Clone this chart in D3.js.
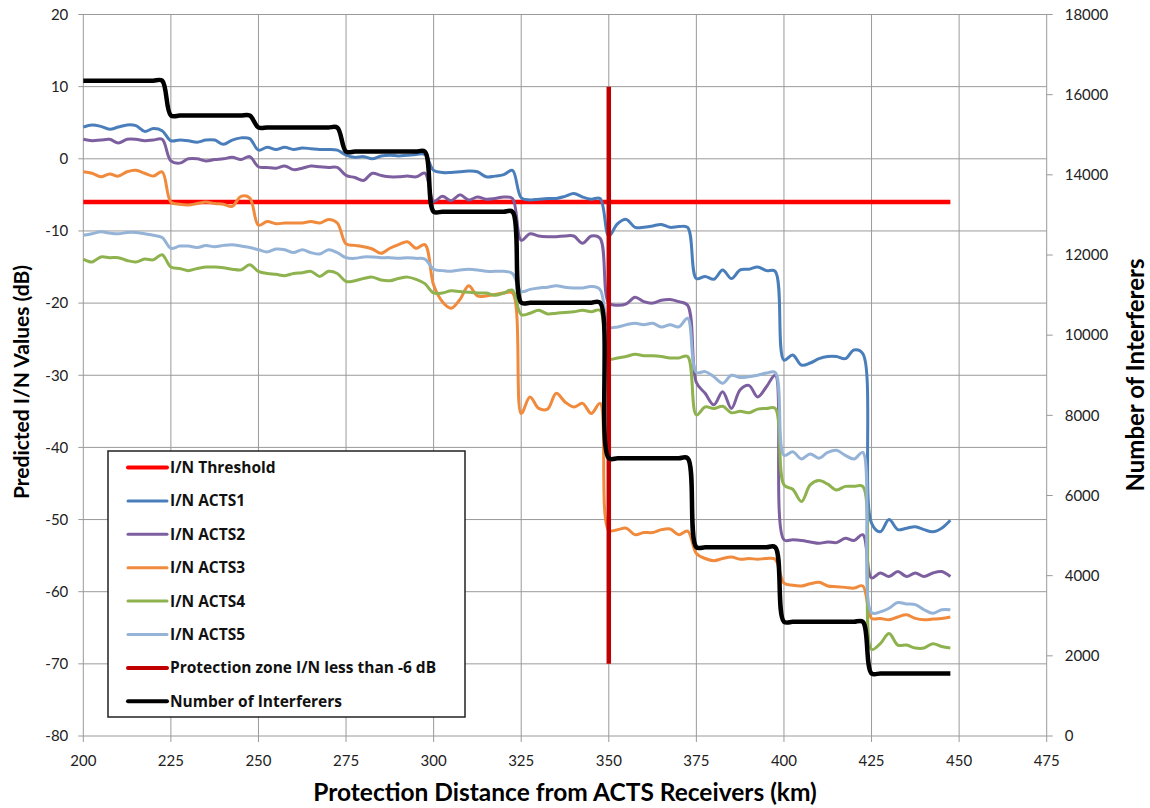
<!DOCTYPE html>
<html>
<head>
<meta charset="utf-8">
<script src="https://cdn.jsdelivr.net/npm/d3@7"></script>
<style>
  body { margin: 0; background: #fff; }
  text { font-family: Lato, "Open Sans", sans-serif; }
</style>
</head>
<body>
<div id="chart"></div>
<script>
// distances at 2.5 km steps, 200 .. 447.5
const distanceKm = d3.range(200, 447.6, 2.5);

const thresholdDb = -6;
const protectionKm = 350;
const protectionRange = [10, -70];

// I/N per receiver (dB), 10 values per 25 km step
const acts1 = [
  4.4, 4.7, 4.5, 4.1, 4.4, 4.7, 4.6, 3.8, 4.2, 3.9,
  2.5, 2.6, 2.5, 2.3, 2.6, 2.6, 2.0, 2.6, 2.9, 2.8,
  1.2, 1.6, 1.3, 1.6, 1.3, 1.5, 1.4, 1.3, 1.3, 1.2,
  0.5, 0.2, 0.3, 0.0, 0.4, 0.5, 0.4, 0.5, 0.6, 0.6,
  -1.6, -1.9, -1.9, -1.8, -1.7, -1.8, -2.5, -2.4, -2.2, -1.6,
  -5.4, -5.7, -5.6, -5.5, -5.5, -5.2, -4.8, -5.3, -5.6, -5.5,
  -10.7, -9.0, -8.4, -9.5, -9.5, -9.3, -9.1, -9.5, -9.4, -9.5,
  -16.6, -16.3, -16.7, -15.4, -16.6, -15.4, -15.3, -15.0, -15.5, -15.6,
  -27.9, -27.2, -28.6, -28.3, -27.7, -27.4, -27.4, -27.7, -26.5, -27.0,
  -50.5, -51.7, -50.0, -51.4, -51.2, -51.0, -51.4, -51.7, -51.2, -50.1
];
const acts2 = [
  2.7, 2.5, 2.6, 2.7, 2.2, 2.7, 2.7, 2.5, 2.6, 2.7,
  -0.3, -0.6, 0.0, 0.0, -0.3, -0.1, 0.0, 0.2, -0.1, 0.3,
  -1.1, -1.2, -1.3, -1.0, -1.5, -1.3, -1.0, -1.1, -1.2, -1.2,
  -2.3, -2.6, -3.0, -2.0, -2.3, -2.5, -2.5, -2.4, -2.5, -2.0,
  -5.9, -5.2, -5.8, -5.0, -5.7, -5.3, -5.6, -5.5, -5.3, -5.5,
  -11.3, -10.4, -10.7, -10.8, -10.8, -10.7, -10.7, -11.7, -10.7, -11.0,
  -20.0, -20.3, -20.1, -19.2, -19.8, -20.0, -19.6, -19.5, -19.8, -20.3,
  -31.0, -32.5, -34.1, -32.3, -34.6, -32.0, -31.4, -33.0, -31.6, -30.0,
  -52.8, -52.8, -52.9, -53.1, -53.3, -53.1, -53.2, -52.6, -52.9, -52.1,
  -58.1, -57.4, -57.9, -57.2, -57.9, -57.4, -57.9, -57.4, -57.2, -57.9
];
const acts3 = [
  -1.8, -2.0, -2.5, -2.1, -2.4, -1.8, -1.6, -2.0, -2.4, -1.8,
  -6.0, -6.3, -6.4, -6.2, -6.0, -6.2, -6.3, -6.6, -5.2, -5.4,
  -9.2, -8.7, -9.0, -8.9, -8.9, -8.9, -8.7, -8.9, -8.4, -8.9,
  -11.8, -12.0, -12.2, -12.5, -13.1, -12.4, -11.9, -11.5, -12.4, -11.9,
  -17.5, -19.8, -20.7, -19.5, -17.6, -19.0, -19.0, -18.8, -18.6, -18.6,
  -35.3, -33.0, -34.6, -34.7, -32.5, -33.7, -34.4, -33.9, -35.3, -33.9,
  -51.5, -51.4, -51.2, -52.1, -51.8, -51.8, -51.4, -51.3, -52.1, -51.6,
  -54.7, -55.4, -55.7, -55.4, -55.2, -55.5, -55.4, -55.5, -55.4, -55.5,
  -58.8, -59.1, -59.2, -58.9, -58.7, -59.2, -59.3, -59.4, -59.5, -59.2,
  -63.7, -63.7, -63.9, -63.5, -63.2, -63.7, -63.9, -63.8, -63.7, -63.5
];
const acts4 = [
  -13.9, -14.3, -13.6, -13.7, -13.7, -14.1, -14.3, -13.9, -14.0, -13.3,
  -15.0, -15.2, -15.5, -15.2, -15.0, -15.0, -15.1, -15.3, -15.4, -14.7,
  -15.6, -15.9, -16.0, -16.2, -15.9, -15.8, -15.6, -16.3, -15.6, -15.9,
  -17.0, -16.9, -16.6, -16.4, -16.8, -16.9, -16.6, -16.4, -16.7, -17.3,
  -18.6, -18.6, -18.3, -18.4, -18.5, -18.6, -18.6, -18.9, -18.6, -18.2,
  -21.6, -21.4, -21.0, -21.5, -21.4, -21.3, -21.2, -21.0, -21.2, -21.0,
  -27.7, -27.6, -27.4, -27.1, -27.3, -27.3, -27.4, -27.6, -27.6, -27.4,
  -35.5, -34.4, -34.6, -34.3, -35.2, -35.0, -35.2, -34.7, -34.6, -34.6,
  -45.2, -45.8, -47.5, -45.2, -44.6, -45.1, -45.9, -45.4, -45.4, -45.4,
  -68.0, -67.2, -65.8, -67.4, -67.4, -67.8, -67.8, -67.2, -67.6, -67.8
];
const acts5 = [
  -10.6, -10.4, -10.1, -10.3, -10.4, -10.2, -10.2, -10.4, -10.6, -10.9,
  -12.4, -12.1, -12.1, -12.3, -12.0, -12.2, -12.0, -11.9, -12.1, -12.3,
  -12.6, -12.9, -12.5, -12.6, -13.0, -12.6, -13.0, -13.2, -12.6, -13.0,
  -13.7, -13.8, -13.6, -13.6, -13.7, -13.7, -13.8, -13.7, -13.8, -13.9,
  -15.3, -15.5, -15.6, -15.4, -15.3, -15.4, -15.6, -15.6, -15.6, -15.9,
  -18.4, -18.1, -17.9, -17.8, -17.6, -17.8, -17.9, -17.9, -17.7, -18.1,
  -23.3, -23.3, -23.0, -22.8, -23.0, -22.8, -23.3, -23.0, -23.3, -22.1,
  -29.6, -29.5, -30.2, -31.1, -30.0, -30.3, -30.2, -30.0, -29.7, -29.6,
  -41.1, -40.6, -41.6, -40.9, -41.5, -40.7, -40.4, -41.1, -41.6, -40.7,
  -62.9, -62.8, -62.3, -61.5, -61.7, -61.8, -62.5, -63.0, -62.5, -62.5
];
// number of interferers (right axis), one level per 25 km step
const interfererLevels = [16350, 15480, 15180, 14580, 13080, 10810, 6930, 4710, 2850, 1560];

const xTicks = d3.range(200, 476, 25);
const yLeftTicks = d3.range(-80, 21, 10);
const yRightTicks = d3.range(0, 18001, 2000);

const legendNames = ["I/N Threshold", "I/N ACTS1", "I/N ACTS2", "I/N ACTS3", "I/N ACTS4",
  "I/N ACTS5", "Protection zone I/N less than -6 dB", "Number of Interferers"];
const colors = ["#ff0000", "#4a7ebb", "#7d5fa0", "#f08a3c", "#8db24e", "#95b3d7", "#c00000", "#000000"];

const W = 1150, H = 808;
const plot = { left: 83.3, right: 1046.7, top: 14.5, bottom: 736 };

const svg = d3.select("#chart").append("svg")
  .attr("width", W).attr("height", H);

const x = d3.scaleLinear().domain([200, 475]).range([plot.left, plot.right]);
const yL = d3.scaleLinear().domain([-80, 20]).range([plot.bottom, plot.top]);
const yR = d3.scaleLinear().domain([0, 18000]).range([plot.bottom, plot.top]);

const gridColor = "#9a9a9a";

// gridlines
svg.append("g").selectAll("line").data(yLeftTicks).join("line")
  .attr("x1", plot.left - 5).attr("x2", plot.right)
  .attr("y1", d => yL(d)).attr("y2", d => yL(d))
  .attr("stroke", gridColor).attr("stroke-width", 1);
svg.append("g").selectAll("line").data(xTicks).join("line")
  .attr("x1", d => x(d)).attr("x2", d => x(d))
  .attr("y1", plot.top).attr("y2", plot.bottom + 6)
  .attr("stroke", gridColor).attr("stroke-width", 1);
// right axis ticks
svg.append("g").selectAll("line").data(yRightTicks).join("line")
  .attr("x1", plot.right).attr("x2", plot.right + 6)
  .attr("y1", d => yR(d)).attr("y2", d => yR(d))
  .attr("stroke", gridColor).attr("stroke-width", 1);

// tick labels
svg.append("g").selectAll("text").data(yLeftTicks).join("text")
  .attr("x", plot.left - 15).attr("y", d => yL(d)).attr("dy", "0.35em")
  .attr("text-anchor", "end").attr("font-size", 15).attr("fill", "#222")
  .text(d => d);
svg.append("g").selectAll("text").data(yRightTicks).join("text")
  .attr("x", plot.right + 18).attr("y", d => yR(d)).attr("dy", "0.35em")
  .attr("text-anchor", "start").attr("font-size", 15).attr("fill", "#222")
  .text(d => d);
svg.append("g").selectAll("text").data(xTicks).join("text")
  .attr("x", d => x(d)).attr("y", plot.bottom + 30)
  .attr("text-anchor", "middle").attr("font-size", 15).attr("fill", "#222")
  .text(d => d);

// axis titles
svg.append("text")
  .attr("transform", `translate(29,382) rotate(-90)`)
  .attr("text-anchor", "middle").attr("font-size", 21).attr("font-weight", "bold")
  .text("Predicted I/N Values (dB)");
svg.append("text")
  .attr("transform", `translate(1144,375) rotate(-90)`)
  .attr("text-anchor", "middle").attr("font-size", 24).attr("font-weight", "bold")
  .text("Number of Interferers");
svg.append("text")
  .attr("x", (plot.left + plot.right) / 2).attr("y", 801)
  .attr("text-anchor", "middle").attr("font-size", 24.5).attr("font-weight", "bold")
  .text("Protection Distance from ACTS Receivers (km)");

// series
const lineL = d3.line().x(d => x(d[0])).y(d => yL(d[1])).curve(d3.curveCatmullRom);
const lineR = d3.line().x(d => x(d[0])).y(d => yR(d[1])).curve(d3.curveCatmullRom);

const thresholdPts = [[distanceKm[0], thresholdDb], [distanceKm[distanceKm.length - 1], thresholdDb]];
svg.append("path").attr("d", lineL(thresholdPts))
  .attr("fill", "none").attr("stroke", colors[0]).attr("stroke-width", 4.5);

[acts1, acts2, acts3, acts4, acts5].forEach((vals, i) => {
  svg.append("path")
    .attr("d", lineL(distanceKm.map((k, j) => [k, vals[j]])))
    .attr("fill", "none").attr("stroke", colors[i + 1])
    .attr("stroke-width", 3).attr("stroke-linejoin", "round");
});

svg.append("path")
  .attr("d", lineL(protectionRange.map(v => [protectionKm, v])))
  .attr("fill", "none").attr("stroke", colors[6]).attr("stroke-width", 4.5);

const interferers = distanceKm.map((k, j) => [k, interfererLevels[Math.floor(j / 10)]]);
svg.append("path").attr("d", lineR(interferers))
  .attr("fill", "none").attr("stroke", colors[7])
  .attr("stroke-width", 4.5).attr("stroke-linejoin", "round");

// legend
const lg = svg.append("g").attr("transform", "translate(108,451)");
lg.append("rect").attr("width", 357).attr("height", 266)
  .attr("fill", "#fff").attr("stroke", "#222").attr("stroke-width", 1.5);
const rows = lg.selectAll("g.row").data(legendNames).join("g")
  .attr("class", "row")
  .attr("transform", (d, i) => `translate(0,${16.5 + i * 33.4})`);
rows.append("line").attr("x1", 20).attr("x2", 59)
  .attr("stroke", (d, i) => colors[i]).attr("stroke-width", (d, i) => (i === 0 || i >= 6) ? 4 : 3)
  .attr("stroke-linecap", "round");
rows.append("text").attr("x", 62).attr("dy", "0.35em")
  .attr("font-size", 15.5).attr("font-weight", "bold").attr("fill", "#111")
  .style("font-family", "'Open Sans', sans-serif")
  .text(d => d);
</script>
</body>
</html>
